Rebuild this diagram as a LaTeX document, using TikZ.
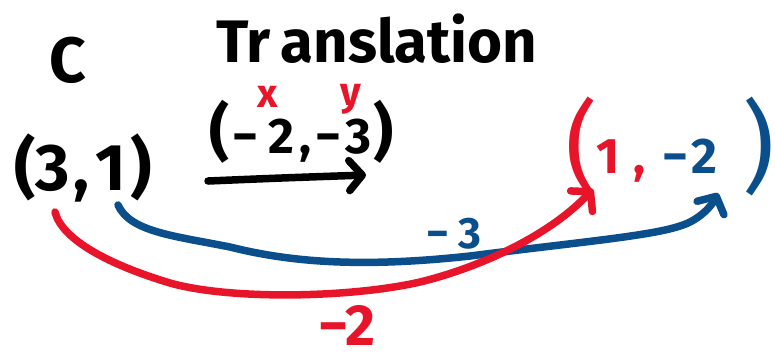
\documentclass[tikz,border=0pt]{standalone}
\usepackage{fontspec}
\setmainfont{Fira Sans}
\usetikzlibrary{arrows.meta}
\definecolor{hred}{RGB}{232,20,42}
\definecolor{hblue}{RGB}{10,78,140}
\newcommand{\fs}[1]{\fontsize{#1}{#1}\selectfont}
\begin{document}
\begin{tikzpicture}[x=1pt,y=-1pt,
  hw/.style={inner sep=0pt,outer sep=0pt,font=\bfseries},
  stroke/.style={line width=7.5pt,line cap=round,line join=round},
  tipped/.style={stroke,-{Straight Barb[length=13pt,width=30pt,round]}}]
\useasboundingbox[fill=white] (0,0) rectangle (775,360);
% texts
\node[hw,font=\bfseries\fs{64}] (c) at (68,60) {C};
\node[hw,font=\bfseries\fs{60},anchor=base west] (tr) at (216,62) {Tr\hspace{10pt}anslation};
\node[hw,font=\bfseries\fs{40},text=hred,anchor=base] (xl) at (268,107) {x};
\node[hw,font=\bfseries\fs{40},text=hred,anchor=base] (yl) at (351,105) {y};
\node[hw,font=\bfseries\fs{50}] (vec) at (302,132) {{\fs{62}(}\hspace{2pt}−\hspace{10pt}2\hspace{6pt},\hspace{4pt}−\hspace{4pt}3\hspace{2pt}{\fs{62})}};
\node[hw,font=\bfseries\fs{66}] (p) at (83,168) {(3\hspace{4pt},\hspace{6pt}1\hspace{4pt})};
\node[hw,font=\fs{100},text=hred] (rp) at (582,146) {(};
\node[hw,font=\bfseries\fs{50},text=hred,anchor=base west] (r1) at (596,173) {1\hspace{14pt},};
\node[hw,font=\bfseries\fs{50},text=hblue,anchor=base west] (b2) at (662,173) {−\hspace{4pt}2};
\node[hw,font=\fs{100},text=hblue] (bp) at (759,146) {)};
\node[hw,font=\bfseries\fs{44},text=hblue,anchor=base west] (m3) at (426,248) {−\hspace{10pt}3};
\node[hw,font=\bfseries\fs{58},text=hred,anchor=base west] (m2) at (318,345) {−2};
% end points
\coordinate (as) at (208,181);
\coordinate (ae) at (366,175);
\coordinate (rs) at (55,212);
\coordinate (re) at (593,189);
\coordinate (bs) at (118,205);
\coordinate (be) at (718,193);
% arrows
\draw[tipped,black] (as) .. controls (280,178) .. (ae);
\draw[tipped,hblue] (bs) .. controls (130,232) and (175,236) .. (230,247)
  .. controls (290,262) and (360,268) .. (470,256)
  .. controls (580,242) and (650,236) .. (680,226)
  .. controls (700,220) and (712,205) .. (be);
\draw[tipped,hred] (rs) .. controls (62,240) and (110,265) .. (170,283)
  .. controls (230,300) and (350,298) .. (420,282)
  .. controls (470,270) and (545,240) .. (re);
\end{tikzpicture}
\end{document}
